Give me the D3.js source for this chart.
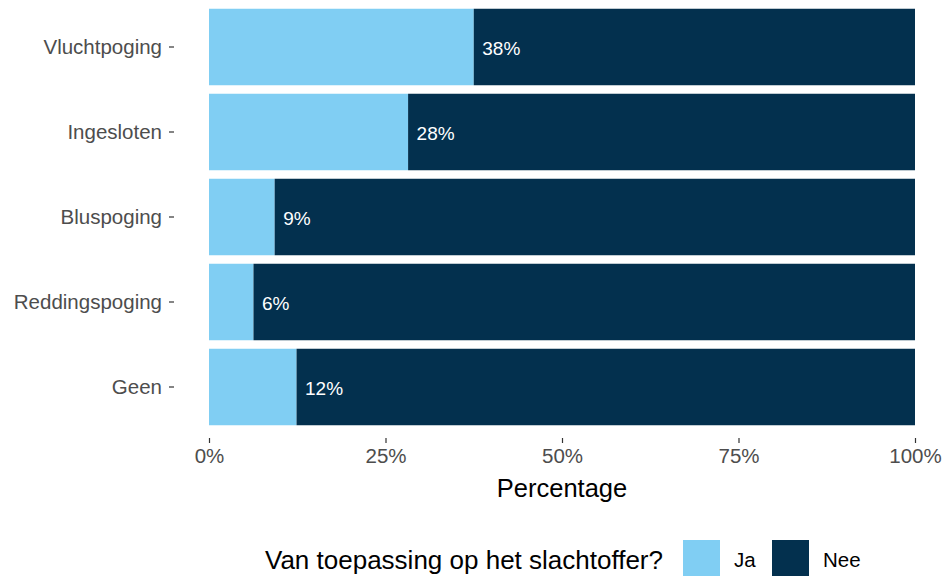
<!DOCTYPE html>
<html><head><meta charset="utf-8">
<script src="https://cdn.jsdelivr.net/npm/d3@7"></script>
<style>body{margin:0;background:#fff}svg{display:block}text{font-family:Arial,"Liberation Sans",sans-serif}</style>
</head><body><svg id="c" width="945" height="576"></svg>
<script>
const categories = ["Vluchtpoging","Ingesloten","Bluspoging","Reddingspoging","Geen"];
const jaValues = [37.5, 28.2, 9.3, 6.3, 12.4];
const neeValues = jaValues.map(v => 100 - v);
const seriesNames = ["Ja","Nee"];
const seriesColors = ["#80cef3","#03304e"];
const xTicks = [0,25,50,75,100];

const svg = d3.select("#c");
const x = d3.scaleLinear().domain([0,100]).range([209,915]);
const y = d3.scaleBand().domain(categories).range([4.5,429.5]).paddingInner(0.1).paddingOuter(0.05);
const color = d3.scaleOrdinal().domain(seriesNames).range(seriesColors);

const rows = categories.map((c,i)=>({cat:c, Ja:jaValues[i], Nee:neeValues[i]}));
const stacked = d3.stack().keys(seriesNames)(rows);

svg.append("g").selectAll("g").data(stacked).join("g")
  .attr("fill", d=>color(d.key))
  .selectAll("rect").data(d=>d).join("rect")
  .attr("x", d=>x(d[0])).attr("width", d=>x(d[1])-x(d[0]))
  .attr("y", d=>y(d.data.cat)).attr("height", y.bandwidth());

svg.append("g").selectAll("text").data(rows).join("text")
  .attr("x", d=>x(d.Ja)+8.5).attr("y", d=>y(d.cat)+y.bandwidth()/2+1)
  .attr("dy","0.35em").attr("fill","#fff").attr("font-size",19)
  .text(d=>Math.round(d.Ja)+"%");

// y axis
const ya = svg.append("g").attr("transform","translate(174,0)")
  .call(d3.axisLeft(y).tickSize(5).tickPadding(7));
ya.select(".domain").remove();
ya.selectAll("line").attr("stroke","#333").attr("stroke-width",1.2);
ya.selectAll("text").attr("font-size",20.5).attr("fill","#4d4d4d").attr("font-family","Arial, 'Liberation Sans', sans-serif");

// x axis
const xa = svg.append("g").attr("transform","translate(0,438)")
  .call(d3.axisBottom(x).tickValues(xTicks).tickFormat(d=>d+"%").tickSize(5).tickPadding(5));
xa.select(".domain").remove();
xa.selectAll("line").attr("stroke","#333").attr("stroke-width",1.2);
xa.selectAll("text").attr("font-size",20.5).attr("fill","#4d4d4d").attr("font-family","Arial, 'Liberation Sans', sans-serif");

svg.append("text").attr("x",562).attr("y",497).attr("text-anchor","middle")
  .attr("font-size",25.5).attr("fill","#000").text("Percentage");

// legend
const lg = svg.append("g");
lg.append("text").attr("x",265).attr("y",569).attr("font-size",26).attr("fill","#000")
  .text("Van toepassing op het slachtoffer?");
const legX = [683, 772];
seriesNames.forEach((s,i)=>{
  lg.append("rect").attr("x",legX[i]).attr("y",540).attr("width",37).attr("height",37).attr("fill",color(s));
  lg.append("text").attr("x",legX[i]+51).attr("y",560).attr("dy","0.35em").attr("font-size",20.5).attr("fill","#000").text(s);
});
</script></body></html>
